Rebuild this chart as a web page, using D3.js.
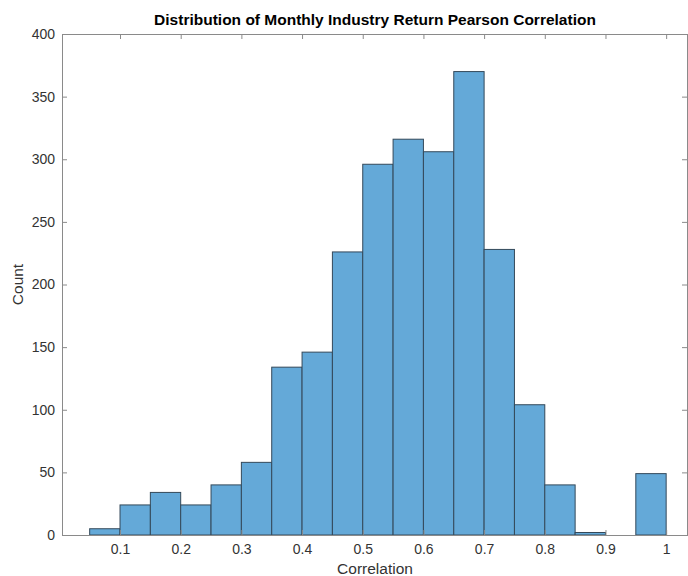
<!DOCTYPE html>
<html>
<head>
<meta charset="utf-8">
<script src="https://cdn.jsdelivr.net/npm/d3@7"></script>
<style>
  body { margin: 0; background: #fff; }
  text { font-family: "Liberation Sans", Arial, sans-serif; }
</style>
</head>
<body>
<div id="chart"></div>
<script>
// histogram bins (lower edge) and counts, bin width 0.05
let binStarts = [0.05, 0.10, 0.15, 0.20, 0.25, 0.30, 0.35, 0.40, 0.45, 0.50,
                 0.55, 0.60, 0.65, 0.70, 0.75, 0.80, 0.85, 0.90, 0.95];
let counts = [5, 24, 34, 24, 40, 58, 134, 146, 226, 296,
              316, 306, 370, 228, 104, 40, 2, 0, 49];
let binWidth = 0.05;
let xTicks = [0.1, 0.2, 0.3, 0.4, 0.5, 0.6, 0.7, 0.8, 0.9, 1];
let yTicks = [0, 50, 100, 150, 200, 250, 300, 350, 400];

let config_size = {
    svg_width: 688,
    svg_height: 576,
    plot_margin: { left: 62, right: 0, top: 34, bottom: 41 },
};

let data = binStarts.map((s, i) => ({x0: s, x1: s + binWidth, count: counts[i]}));

let svg = d3.select("#chart").append("svg")
    .attr("width", config_size.svg_width).attr("height", config_size.svg_height);

let plot_width = config_size.svg_width - config_size.plot_margin.left - config_size.plot_margin.right;
let plot_height = config_size.svg_height - config_size.plot_margin.top - config_size.plot_margin.bottom;

let plot_g = svg.append("g")
    .attr("transform", `translate(${config_size.plot_margin.left}, ${config_size.plot_margin.top})`);

let x = d3.scaleLinear().domain([0.0044, 1.036]).range([0, plot_width]);
let y = d3.scaleLinear().domain([0, 400]).range([plot_height, 0]);

// bars
plot_g.selectAll("rect.bar").data(data.filter(d => d.count > 0)).join("rect")
    .attr("class", "bar")
    .attr("x", d => x(d.x0))
    .attr("y", d => y(d.count))
    .attr("width", d => x(d.x1) - x(d.x0))
    .attr("height", d => y(0) - y(d.count))
    .attr("fill", "#64a9d8")
    .attr("stroke", "#34495a")
    .attr("stroke-width", 1);

// axes
let axisColor = "#8a8a8a";
let textColor = "#333";
function styleAxis(g, showText) {
    g.select(".domain").attr("stroke", axisColor);
    g.selectAll(".tick line").attr("stroke", axisColor);
    g.selectAll(".tick text").attr("fill", textColor)
        .style("font-size", "14px")
        .style("display", showText ? null : "none");
}

plot_g.append("g")
    .attr("transform", `translate(0,${plot_height})`)
    .call(d3.axisBottom(x).tickValues(xTicks).tickFormat(d3.format("~g"))
        .tickSizeInner(-5).tickSizeOuter(0).tickPadding(9))
    .call(g => styleAxis(g, true));

plot_g.append("g")
    .call(d3.axisTop(x).tickValues(xTicks).tickSizeInner(-5).tickSizeOuter(0))
    .call(g => styleAxis(g, false));

plot_g.append("g")
    .call(d3.axisLeft(y).tickValues(yTicks).tickSizeInner(-5).tickSizeOuter(0).tickPadding(7))
    .call(g => styleAxis(g, true));

plot_g.append("g")
    .attr("transform", `translate(${plot_width - 1},0)`)
    .call(d3.axisRight(y).tickValues(yTicks).tickSizeInner(-5).tickSizeOuter(0))
    .call(g => styleAxis(g, false));

// title and labels
svg.append("text")
    .attr("x", config_size.plot_margin.left + plot_width / 2).attr("y", 25)
    .attr("text-anchor", "middle")
    .style("font-size", "15.5px").style("font-weight", "bold").attr("fill", "#000")
    .text("Distribution of Monthly Industry Return Pearson Correlation");

svg.append("text")
    .attr("x", config_size.plot_margin.left + plot_width / 2).attr("y", 574)
    .attr("text-anchor", "middle")
    .style("font-size", "15.5px").attr("fill", textColor)
    .text("Correlation");

svg.append("text")
    .attr("transform", `translate(23, ${config_size.plot_margin.top + plot_height / 2}) rotate(-90)`)
    .attr("text-anchor", "middle")
    .style("font-size", "15.5px").attr("fill", textColor)
    .text("Count");
</script>
</body>
</html>
